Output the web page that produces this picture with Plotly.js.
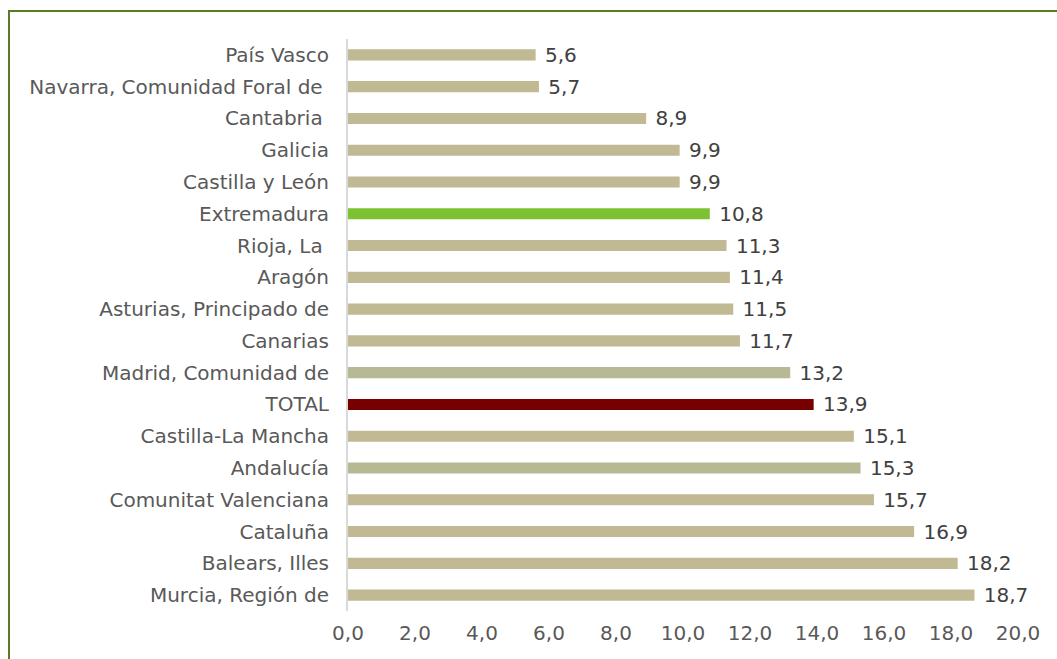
<!DOCTYPE html>
<html>
<head>
<meta charset="utf-8">
<script src="https://cdn.plot.ly/plotly-3.0.1.min.js"></script>
<style>
  html, body { margin: 0; padding: 0; background: #ffffff; overflow: hidden; }
  #frame { position: absolute; left: 8px; top: 10px; width: 1100px; height: 700px;
           border: 2px solid #5b7b1f; box-sizing: border-box; }
  #chart { position: absolute; left: 0; top: 0; width: 1057px; height: 659px; }
</style>
</head>
<body>
<div id="frame"></div>
<div id="chart"></div>
<script>
// Data (top to bottom as shown)
const regions = [
  "País Vasco",
  "Navarra, Comunidad Foral de\u00a0",
  "Cantabria\u00a0",
  "Galicia",
  "Castilla y León",
  "Extremadura",
  "Rioja, La\u00a0",
  "Aragón",
  "Asturias, Principado de",
  "Canarias",
  "Madrid, Comunidad de",
  "TOTAL",
  "Castilla-La Mancha",
  "Andalucía",
  "Comunitat Valenciana",
  "Cataluña",
  "Balears, Illes",
  "Murcia, Región de"
];
const values = [5.6, 5.7, 8.9, 9.9, 9.9, 10.8, 11.3, 11.4, 11.5, 11.7, 13.2, 13.9, 15.1, 15.3, 15.7, 16.9, 18.2, 18.7];
const xTicks = [0, 2, 4, 6, 8, 10, 12, 14, 16, 18, 20];

// Styles
const baseColor = "#c1b894";
const specialColors = {
  "Extremadura": "#7dc232",
  "TOTAL": "#760000",
  "Madrid, Comunidad de": "#b7b994",
  "Andalucía": "#b7b994"
};
const barColors = regions.map(r => specialColors[r] || baseColor);

const fontFam = "'DejaVu Sans', Verdana, sans-serif";

const trace = {
  type: "bar",
  orientation: "h",
  x: values,
  y: regions,
  width: 0.35,
  marker: { color: barColors, line: { width: 0 } },
  texttemplate: "\u00a0%{x:.1f}",
  textposition: "outside",
  constraintext: "none",
  cliponaxis: false,
  textfont: { family: fontFam, size: 20, color: "#404040" },
  hoverinfo: "skip"
};

const layout = {
  width: 1057,
  height: 659,
  margin: { l: 348, r: 39, t: 39, b: 48 },
  paper_bgcolor: "rgba(0,0,0,0)",
  plot_bgcolor: "rgba(0,0,0,0)",
  separators: ", ",
  showlegend: false,
  font: { family: fontFam, size: 20, color: "#595959" },
  xaxis: {
    range: [0, 20],
    tickvals: xTicks,
    tickformat: ".1f",
    showgrid: false,
    zeroline: false,
    showline: false,
    ticks: "",
    ticklabelstandoff: 8,
    tickfont: { family: fontFam, size: 20, color: "#595959" },
    fixedrange: true
  },
  yaxis: {
    type: "category",
    autorange: "reversed",
    showgrid: false,
    zeroline: false,
    showline: true,
    linecolor: "#d9d9d9",
    linewidth: 2,
    ticks: "",
    ticklabelstandoff: 13,
    tickfont: { family: fontFam, size: 20, color: "#595959" },
    fixedrange: true
  }
};

Plotly.newPlot("chart", [trace], layout, { displayModeBar: false, staticPlot: true });
</script>
</body>
</html>
